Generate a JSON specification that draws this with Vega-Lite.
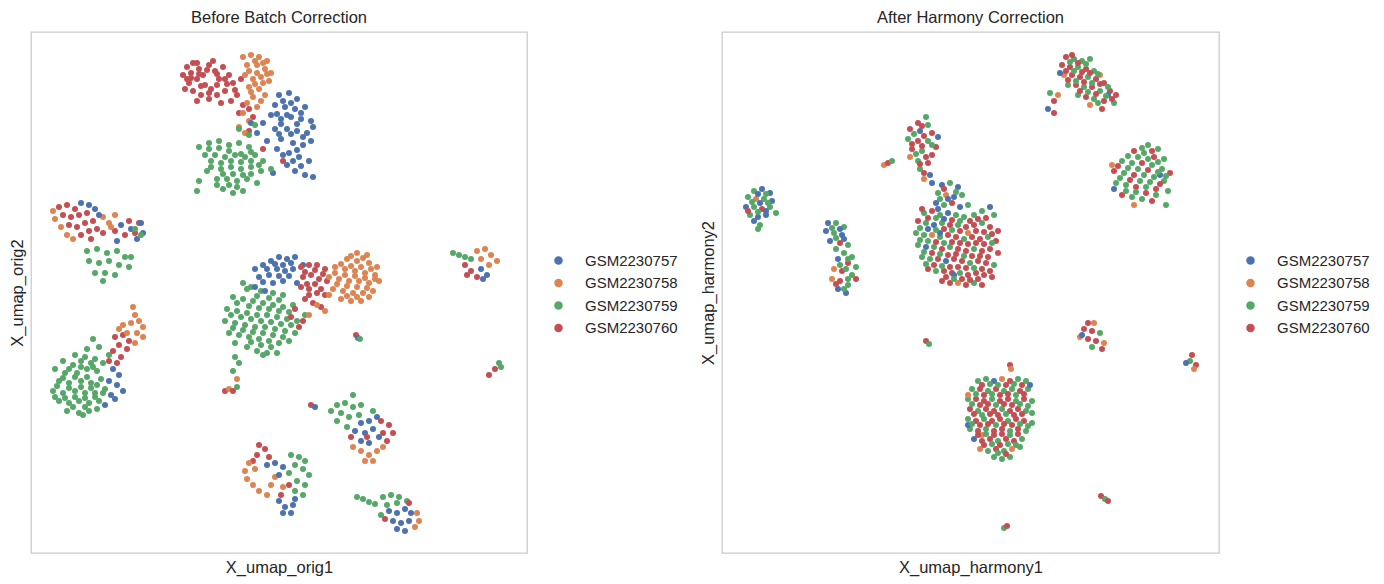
{
  "$schema": "https://vega.github.io/schema/vega-lite/v6.json",
  "background": "white",
  "padding": {"left": 8, "top": 8, "right": 0, "bottom": 0},
  "config": {
    "font": "Liberation Sans",
    "view": {"stroke": "#cccccc", "strokeWidth": 1.3},
    "title": {"fontSize": 16.5, "fontWeight": "normal", "color": "#262626", "offset": 6},
    "axis": {"grid": false, "ticks": false, "labels": false, "domain": false, "titleFontSize": 16.5, "titleFontWeight": "normal", "titleColor": "#262626", "titlePadding": 6},
    "legend": {"labelFontSize": 15, "labelColor": "#262626", "symbolSize": 72, "symbolType": "circle", "symbolOpacity": 1, "symbolStrokeWidth": 0, "rowPadding": 6.5, "labelOffset": 19, "padding": 0},
    "concat": {"spacing": 20}
  },
  "datasets": {
    "before": [
      {"x":7.6,"y":23.9,"s":"60"},{"x":7.8,"y":24.3,"s":"60"},{"x":8.1,"y":24.5,"s":"60"},{"x":8.4,"y":24.2,"s":"60"},{"x":7.9,"y":23.5,"s":"60"},{"x":8.3,"y":23.7,"s":"60"},{"x":8.6,"y":23.9,"s":"60"},{"x":8.9,"y":24.4,"s":"60"},{"x":9.2,"y":24.1,"s":"60"},{"x":8.7,"y":23.4,"s":"60"},{"x":9.0,"y":23.2,"s":"60"},{"x":9.4,"y":23.7,"s":"60"},{"x":9.6,"y":24.3,"s":"60"},{"x":9.9,"y":23.9,"s":"60"},{"x":9.3,"y":22.9,"s":"60"},{"x":9.7,"y":23.1,"s":"60"},{"x":10.1,"y":23.5,"s":"60"},{"x":8.1,"y":23.1,"s":"60"},{"x":8.5,"y":22.9,"s":"60"},{"x":7.7,"y":23.2,"s":"60"},{"x":10.3,"y":22.9,"s":"60"},{"x":10.0,"y":22.6,"s":"60"},{"x":9.5,"y":22.5,"s":"60"},{"x":10.5,"y":23.7,"s":"60"},{"x":8.9,"y":22.7,"s":"60"},{"x":9.1,"y":24.6,"s":"60"},{"x":8.0,"y":24.0,"s":"60"},{"x":10.6,"y":22.4,"s":"60"},{"x":10.9,"y":22.2,"s":"60"},{"x":10.4,"y":22.0,"s":"60"},{"x":11.1,"y":21.8,"s":"60"},{"x":8.3,"y":22.6,"s":"60"},{"x":10.9,"y":21.1,"s":"60"},{"x":11.6,"y":20.2,"s":"60"},{"x":12.6,"y":19.6,"s":"60"},
      {"x":8.0,"y":23.75,"s":"60"},{"x":8.4,"y":23.95,"s":"60"},{"x":8.8,"y":24.15,"s":"60"},{"x":9.3,"y":23.95,"s":"60"},{"x":9.7,"y":23.7,"s":"60"},{"x":8.5,"y":23.35,"s":"60"},{"x":8.9,"y":23.0,"s":"60"},{"x":9.3,"y":23.4,"s":"60"},{"x":9.8,"y":23.45,"s":"60"},{"x":10.2,"y":23.15,"s":"60"},{"x":8.3,"y":24.5,"s":"60"},{"x":7.8,"y":23.7,"s":"60"},
      {"x":10.6,"y":24.8,"s":"58"},{"x":11.0,"y":24.9,"s":"58"},{"x":11.4,"y":24.8,"s":"58"},{"x":11.8,"y":24.6,"s":"58"},{"x":10.8,"y":24.4,"s":"58"},{"x":11.3,"y":24.4,"s":"58"},{"x":11.7,"y":24.2,"s":"58"},{"x":12.0,"y":24.0,"s":"58"},{"x":10.7,"y":23.9,"s":"58"},{"x":11.1,"y":23.7,"s":"58"},{"x":11.5,"y":23.8,"s":"58"},{"x":11.9,"y":23.6,"s":"58"},{"x":10.9,"y":23.3,"s":"58"},{"x":11.4,"y":23.2,"s":"58"},{"x":11.7,"y":22.9,"s":"58"},{"x":11.1,"y":22.8,"s":"58"},{"x":10.8,"y":22.5,"s":"58"},{"x":11.3,"y":22.3,"s":"58"},{"x":10.6,"y":22.0,"s":"58"},{"x":10.9,"y":21.6,"s":"58"},{"x":10.4,"y":21.3,"s":"58"},{"x":10.7,"y":21.0,"s":"58"},
      {"x":11.2,"y":24.6,"s":"58"},{"x":11.6,"y":24.5,"s":"58"},{"x":10.9,"y":24.1,"s":"58"},{"x":11.3,"y":24.0,"s":"58"},{"x":11.8,"y":23.95,"s":"58"},{"x":11.2,"y":23.45,"s":"58"},{"x":11.6,"y":23.5,"s":"58"},{"x":11.0,"y":23.05,"s":"58"},{"x":11.5,"y":22.6,"s":"58"},
      {"x":12.4,"y":22.9,"s":"57"},{"x":12.9,"y":23.0,"s":"57"},{"x":13.3,"y":22.7,"s":"57"},{"x":12.2,"y":22.4,"s":"57"},{"x":12.7,"y":22.3,"s":"57"},{"x":13.2,"y":22.2,"s":"57"},{"x":13.7,"y":22.3,"s":"57"},{"x":12.0,"y":21.9,"s":"57"},{"x":12.5,"y":21.7,"s":"57"},{"x":13.0,"y":21.8,"s":"57"},{"x":13.5,"y":21.7,"s":"57"},{"x":14.0,"y":21.6,"s":"57"},{"x":11.6,"y":21.5,"s":"57"},{"x":12.2,"y":21.2,"s":"57"},{"x":12.8,"y":21.2,"s":"57"},{"x":13.3,"y":21.1,"s":"57"},{"x":13.8,"y":21.0,"s":"57"},{"x":14.1,"y":21.3,"s":"57"},{"x":11.3,"y":21.0,"s":"57"},{"x":12.5,"y":20.7,"s":"57"},{"x":13.1,"y":20.5,"s":"57"},{"x":13.6,"y":20.4,"s":"57"},{"x":14.0,"y":20.6,"s":"57"},{"x":12.9,"y":20.0,"s":"57"},{"x":13.4,"y":19.8,"s":"57"},{"x":12.3,"y":20.2,"s":"57"},{"x":13.9,"y":19.6,"s":"57"},{"x":12.8,"y":19.4,"s":"57"},{"x":13.2,"y":19.1,"s":"57"},{"x":13.7,"y":18.9,"s":"57"},{"x":14.1,"y":18.8,"s":"57"},{"x":12.1,"y":19.0,"s":"57"},{"x":11.0,"y":21.5,"s":"57"},{"x":11.8,"y":20.6,"s":"57"},
      {"x":12.6,"y":22.6,"s":"57"},{"x":13.0,"y":22.5,"s":"57"},{"x":13.5,"y":22.0,"s":"57"},{"x":12.3,"y":21.95,"s":"57"},{"x":12.8,"y":21.9,"s":"57"},{"x":13.3,"y":21.45,"s":"57"},{"x":12.5,"y":21.45,"s":"57"},{"x":13.0,"y":20.95,"s":"57"},{"x":13.6,"y":20.8,"s":"57"},{"x":12.4,"y":20.95,"s":"57"},{"x":13.3,"y":20.15,"s":"57"},{"x":13.1,"y":19.6,"s":"57"},{"x":13.5,"y":19.35,"s":"57"},{"x":12.6,"y":19.9,"s":"57"},
      {"x":8.4,"y":20.3,"s":"59"},{"x":8.9,"y":20.5,"s":"59"},{"x":9.4,"y":20.6,"s":"59"},{"x":9.9,"y":20.4,"s":"59"},{"x":10.4,"y":20.5,"s":"59"},{"x":10.9,"y":20.3,"s":"59"},{"x":8.7,"y":19.9,"s":"59"},{"x":9.2,"y":19.9,"s":"59"},{"x":9.7,"y":19.8,"s":"59"},{"x":10.2,"y":19.9,"s":"59"},{"x":10.7,"y":19.8,"s":"59"},{"x":11.2,"y":19.9,"s":"59"},{"x":11.6,"y":19.6,"s":"59"},{"x":9.0,"y":19.3,"s":"59"},{"x":9.5,"y":19.2,"s":"59"},{"x":10.0,"y":19.3,"s":"59"},{"x":10.5,"y":19.2,"s":"59"},{"x":11.0,"y":19.3,"s":"59"},{"x":11.5,"y":19.1,"s":"59"},{"x":12.0,"y":19.2,"s":"59"},{"x":9.3,"y":18.7,"s":"59"},{"x":9.8,"y":18.7,"s":"59"},{"x":10.3,"y":18.6,"s":"59"},{"x":10.8,"y":18.7,"s":"59"},{"x":11.3,"y":18.5,"s":"59"},{"x":9.6,"y":18.2,"s":"59"},{"x":10.1,"y":18.0,"s":"59"},{"x":10.6,"y":18.1,"s":"59"},{"x":8.4,"y":18.6,"s":"59"},{"x":8.3,"y":18.1,"s":"59"},{"x":10.9,"y":20.9,"s":"59"},{"x":10.4,"y":21.2,"s":"59"},{"x":11.2,"y":21.4,"s":"59"},{"x":9.9,"y":18.4,"s":"59"},{"x":8.8,"y":19.1,"s":"59"},
      {"x":8.9,"y":20.2,"s":"59"},{"x":9.4,"y":20.25,"s":"59"},{"x":9.9,"y":20.1,"s":"59"},{"x":10.5,"y":19.95,"s":"59"},{"x":11.0,"y":20.05,"s":"59"},{"x":9.0,"y":19.6,"s":"59"},{"x":9.5,"y":19.5,"s":"59"},{"x":10.0,"y":19.6,"s":"59"},{"x":10.5,"y":19.55,"s":"59"},{"x":11.0,"y":19.6,"s":"59"},{"x":11.4,"y":19.4,"s":"59"},{"x":9.6,"y":18.95,"s":"59"},{"x":10.1,"y":18.95,"s":"59"},{"x":10.6,"y":18.9,"s":"59"},{"x":11.0,"y":18.95,"s":"59"},{"x":10.3,"y":18.3,"s":"59"},{"x":9.3,"y":18.4,"s":"59"},
      {"x":1.4,"y":17.3,"s":"60"},{"x":1.8,"y":17.4,"s":"60"},{"x":2.2,"y":17.2,"s":"60"},{"x":1.6,"y":16.9,"s":"60"},{"x":2.0,"y":16.8,"s":"60"},{"x":2.4,"y":16.9,"s":"60"},{"x":2.8,"y":17.0,"s":"60"},{"x":1.9,"y":16.4,"s":"60"},{"x":2.3,"y":16.3,"s":"60"},{"x":2.7,"y":16.5,"s":"60"},{"x":3.1,"y":16.6,"s":"60"},{"x":2.5,"y":15.9,"s":"60"},{"x":2.9,"y":16.1,"s":"60"},{"x":3.3,"y":16.2,"s":"60"},{"x":3.6,"y":16.0,"s":"60"},{"x":4.2,"y":16.1,"s":"60"},{"x":4.7,"y":15.9,"s":"60"},{"x":5.2,"y":16.0,"s":"60"},{"x":5.4,"y":16.5,"s":"60"},{"x":4.9,"y":16.6,"s":"60"},{"x":3.0,"y":15.7,"s":"60"},
      {"x":1.1,"y":17.1,"s":"58"},{"x":1.2,"y":16.7,"s":"58"},{"x":1.5,"y":16.3,"s":"58"},{"x":1.8,"y":15.9,"s":"58"},{"x":2.1,"y":15.7,"s":"58"},{"x":3.6,"y":16.8,"s":"58"},{"x":3.9,"y":16.5,"s":"58"},{"x":4.2,"y":16.9,"s":"58"},{"x":4.0,"y":16.3,"s":"58"},
      {"x":2.5,"y":17.5,"s":"57"},{"x":2.9,"y":17.4,"s":"57"},{"x":3.2,"y":17.2,"s":"57"},{"x":3.4,"y":16.9,"s":"57"},{"x":4.5,"y":16.4,"s":"57"},{"x":5.0,"y":16.2,"s":"57"},{"x":5.5,"y":16.5,"s":"57"},{"x":5.6,"y":16.0,"s":"57"},{"x":4.3,"y":15.6,"s":"57"},{"x":5.3,"y":15.7,"s":"57"},
      {"x":2.8,"y":15.1,"s":"59"},{"x":3.3,"y":15.2,"s":"59"},{"x":3.8,"y":15.0,"s":"59"},{"x":4.3,"y":15.1,"s":"59"},{"x":4.7,"y":14.8,"s":"59"},{"x":2.9,"y":14.6,"s":"59"},{"x":3.4,"y":14.5,"s":"59"},{"x":3.9,"y":14.6,"s":"59"},{"x":4.4,"y":14.4,"s":"59"},{"x":4.9,"y":14.3,"s":"59"},{"x":3.2,"y":14.0,"s":"59"},{"x":3.7,"y":14.0,"s":"59"},{"x":4.2,"y":13.9,"s":"59"},{"x":3.6,"y":13.6,"s":"59"},{"x":5.0,"y":14.8,"s":"59"},{"x":5.5,"y":15.9,"s":"59"},{"x":5.2,"y":16.2,"s":"59"},
      {"x":3.1,"y":10.7,"s":"59"},{"x":3.4,"y":10.3,"s":"59"},{"x":2.8,"y":10.2,"s":"59"},{"x":2.2,"y":9.9,"s":"59"},{"x":2.7,"y":9.8,"s":"59"},{"x":3.2,"y":9.7,"s":"59"},{"x":1.6,"y":9.6,"s":"59"},{"x":2.1,"y":9.4,"s":"59"},{"x":3.6,"y":9.5,"s":"59"},{"x":1.2,"y":9.2,"s":"59"},{"x":1.7,"y":9.0,"s":"59"},{"x":2.3,"y":9.0,"s":"59"},{"x":2.8,"y":9.2,"s":"59"},{"x":3.3,"y":9.1,"s":"59"},{"x":1.4,"y":8.6,"s":"59"},{"x":1.9,"y":8.5,"s":"59"},{"x":2.5,"y":8.6,"s":"59"},{"x":3.0,"y":8.5,"s":"59"},{"x":3.5,"y":8.7,"s":"59"},{"x":1.1,"y":8.1,"s":"59"},{"x":1.6,"y":8.0,"s":"59"},{"x":2.2,"y":8.1,"s":"59"},{"x":2.7,"y":8.0,"s":"59"},{"x":3.2,"y":8.0,"s":"59"},{"x":3.7,"y":8.2,"s":"59"},{"x":1.4,"y":7.6,"s":"59"},{"x":1.9,"y":7.5,"s":"59"},{"x":2.4,"y":7.6,"s":"59"},{"x":2.9,"y":7.5,"s":"59"},{"x":3.4,"y":7.6,"s":"59"},{"x":1.8,"y":7.1,"s":"59"},{"x":2.4,"y":7.0,"s":"59"},{"x":2.9,"y":7.1,"s":"59"},{"x":3.3,"y":7.2,"s":"59"},{"x":2.6,"y":6.9,"s":"59"},{"x":1.2,"y":7.8,"s":"59"},{"x":3.9,"y":9.9,"s":"59"},
      {"x":2.5,"y":9.6,"s":"59"},{"x":3.0,"y":9.5,"s":"59"},{"x":1.9,"y":9.2,"s":"59"},{"x":2.5,"y":9.3,"s":"59"},{"x":3.1,"y":9.3,"s":"59"},{"x":1.6,"y":8.75,"s":"59"},{"x":2.2,"y":8.8,"s":"59"},{"x":2.8,"y":8.8,"s":"59"},{"x":3.3,"y":8.4,"s":"59"},{"x":1.3,"y":8.35,"s":"59"},{"x":1.9,"y":8.25,"s":"59"},{"x":2.5,"y":8.3,"s":"59"},{"x":3.0,"y":8.25,"s":"59"},{"x":1.7,"y":7.75,"s":"59"},{"x":2.2,"y":7.8,"s":"59"},{"x":2.7,"y":7.75,"s":"59"},{"x":3.2,"y":7.8,"s":"59"},{"x":2.1,"y":7.3,"s":"59"},{"x":2.7,"y":7.3,"s":"59"},{"x":3.6,"y":8.0,"s":"59"},
      {"x":4.1,"y":9.2,"s":"57"},{"x":4.4,"y":8.9,"s":"57"},{"x":3.9,"y":8.6,"s":"57"},{"x":4.3,"y":8.4,"s":"57"},{"x":4.6,"y":8.1,"s":"57"},{"x":4.0,"y":7.9,"s":"57"},{"x":3.7,"y":7.4,"s":"57"},{"x":4.2,"y":7.7,"s":"57"},
      {"x":4.2,"y":10.8,"s":"60"},{"x":4.6,"y":10.9,"s":"60"},{"x":4.9,"y":10.6,"s":"60"},{"x":4.4,"y":10.4,"s":"60"},{"x":4.8,"y":10.2,"s":"60"},{"x":4.1,"y":10.1,"s":"60"},{"x":4.5,"y":9.8,"s":"60"},{"x":4.3,"y":9.5,"s":"60"},{"x":3.9,"y":9.6,"s":"60"},
      {"x":5.1,"y":12.3,"s":"58"},{"x":5.2,"y":11.9,"s":"58"},{"x":5.4,"y":11.6,"s":"58"},{"x":5.0,"y":11.5,"s":"58"},{"x":5.6,"y":11.3,"s":"58"},{"x":4.6,"y":11.4,"s":"58"},{"x":5.3,"y":11.0,"s":"58"},{"x":4.8,"y":11.0,"s":"58"},{"x":5.6,"y":10.8,"s":"58"},{"x":5.2,"y":10.5,"s":"58"},{"x":4.4,"y":11.2,"s":"58"},
      {"x":10.6,"y":13.5,"s":"59"},{"x":11.0,"y":13.3,"s":"59"},{"x":11.5,"y":13.1,"s":"59"},{"x":12.1,"y":13.0,"s":"59"},{"x":12.6,"y":12.9,"s":"59"},{"x":10.1,"y":12.8,"s":"59"},{"x":10.6,"y":12.7,"s":"59"},{"x":11.1,"y":12.6,"s":"59"},{"x":11.6,"y":12.5,"s":"59"},{"x":12.1,"y":12.4,"s":"59"},{"x":12.6,"y":12.3,"s":"59"},{"x":13.1,"y":12.4,"s":"59"},{"x":9.8,"y":12.2,"s":"59"},{"x":10.3,"y":12.1,"s":"59"},{"x":10.8,"y":12.0,"s":"59"},{"x":11.3,"y":11.9,"s":"59"},{"x":11.8,"y":11.9,"s":"59"},{"x":12.3,"y":11.8,"s":"59"},{"x":12.8,"y":11.7,"s":"59"},{"x":13.3,"y":11.6,"s":"59"},{"x":13.7,"y":11.9,"s":"59"},{"x":9.7,"y":11.6,"s":"59"},{"x":10.2,"y":11.5,"s":"59"},{"x":10.7,"y":11.4,"s":"59"},{"x":11.2,"y":11.3,"s":"59"},{"x":11.7,"y":11.3,"s":"59"},{"x":12.2,"y":11.2,"s":"59"},{"x":12.7,"y":11.1,"s":"59"},{"x":13.2,"y":11.0,"s":"59"},{"x":9.9,"y":11.0,"s":"59"},{"x":10.4,"y":10.9,"s":"59"},{"x":10.9,"y":10.8,"s":"59"},{"x":11.4,"y":10.7,"s":"59"},{"x":11.9,"y":10.6,"s":"59"},{"x":12.4,"y":10.5,"s":"59"},{"x":12.9,"y":10.6,"s":"59"},{"x":10.8,"y":10.3,"s":"59"},{"x":11.3,"y":10.1,"s":"59"},{"x":11.8,"y":10.0,"s":"59"},{"x":12.3,"y":10.0,"s":"59"},{"x":10.2,"y":10.5,"s":"59"},{"x":11.6,"y":9.9,"s":"59"},
      {"x":10.8,"y":13.2,"s":"59"},{"x":11.3,"y":12.85,"s":"59"},{"x":11.9,"y":12.75,"s":"59"},{"x":12.4,"y":12.65,"s":"59"},{"x":10.3,"y":12.5,"s":"59"},{"x":10.9,"y":12.35,"s":"59"},{"x":11.4,"y":12.25,"s":"59"},{"x":11.9,"y":12.2,"s":"59"},{"x":12.4,"y":12.1,"s":"59"},{"x":12.9,"y":12.05,"s":"59"},{"x":10.0,"y":11.9,"s":"59"},{"x":10.5,"y":11.8,"s":"59"},{"x":11.0,"y":11.7,"s":"59"},{"x":11.5,"y":11.6,"s":"59"},{"x":12.0,"y":11.55,"s":"59"},{"x":12.5,"y":11.45,"s":"59"},{"x":13.0,"y":11.4,"s":"59"},{"x":10.1,"y":11.25,"s":"59"},{"x":10.6,"y":11.15,"s":"59"},{"x":11.1,"y":11.05,"s":"59"},{"x":11.6,"y":11.0,"s":"59"},{"x":12.1,"y":10.9,"s":"59"},{"x":12.6,"y":10.8,"s":"59"},{"x":11.0,"y":10.55,"s":"59"},{"x":11.5,"y":10.4,"s":"59"},{"x":12.0,"y":10.3,"s":"59"},
      {"x":11.2,"y":14.2,"s":"57"},{"x":11.6,"y":14.4,"s":"57"},{"x":12.0,"y":14.6,"s":"57"},{"x":12.4,"y":14.8,"s":"57"},{"x":12.8,"y":14.7,"s":"57"},{"x":13.2,"y":14.8,"s":"57"},{"x":11.4,"y":13.8,"s":"57"},{"x":11.9,"y":13.9,"s":"57"},{"x":12.3,"y":14.2,"s":"57"},{"x":12.7,"y":14.1,"s":"57"},{"x":13.1,"y":14.2,"s":"57"},{"x":11.2,"y":13.3,"s":"57"},{"x":12.1,"y":13.5,"s":"57"},{"x":12.6,"y":13.6,"s":"57"},{"x":13.3,"y":13.5,"s":"57"},{"x":13.6,"y":14.4,"s":"57"},{"x":11.7,"y":13.1,"s":"57"},
      {"x":11.8,"y":14.2,"s":"57"},{"x":12.2,"y":14.45,"s":"57"},{"x":12.6,"y":14.4,"s":"57"},{"x":13.0,"y":14.5,"s":"57"},{"x":11.6,"y":13.55,"s":"57"},{"x":12.4,"y":13.85,"s":"57"},{"x":12.9,"y":13.85,"s":"57"},
      {"x":13.5,"y":14.3,"s":"60"},{"x":13.9,"y":14.4,"s":"60"},{"x":14.3,"y":14.4,"s":"60"},{"x":14.7,"y":14.2,"s":"60"},{"x":13.6,"y":13.8,"s":"60"},{"x":14.0,"y":13.9,"s":"60"},{"x":14.4,"y":13.7,"s":"60"},{"x":14.8,"y":13.6,"s":"60"},{"x":13.5,"y":13.3,"s":"60"},{"x":13.9,"y":13.2,"s":"60"},{"x":14.3,"y":13.0,"s":"60"},{"x":14.7,"y":12.9,"s":"60"},{"x":13.7,"y":12.7,"s":"60"},{"x":14.1,"y":12.5,"s":"60"},{"x":14.5,"y":12.3,"s":"60"},{"x":13.2,"y":12.2,"s":"60"},{"x":13.6,"y":11.6,"s":"60"},{"x":13.0,"y":11.8,"s":"60"},{"x":13.4,"y":11.3,"s":"60"},
      {"x":13.7,"y":14.05,"s":"60"},{"x":14.2,"y":14.15,"s":"60"},{"x":14.6,"y":13.95,"s":"60"},{"x":13.8,"y":13.45,"s":"60"},{"x":14.2,"y":13.45,"s":"60"},{"x":14.5,"y":13.2,"s":"60"},{"x":13.9,"y":12.9,"s":"60"},
      {"x":16.3,"y":15.0,"s":"58"},{"x":16.8,"y":14.9,"s":"58"},{"x":15.8,"y":14.7,"s":"58"},{"x":16.3,"y":14.6,"s":"58"},{"x":16.9,"y":14.5,"s":"58"},{"x":17.3,"y":14.3,"s":"58"},{"x":15.2,"y":14.3,"s":"58"},{"x":15.7,"y":14.2,"s":"58"},{"x":16.2,"y":14.1,"s":"58"},{"x":16.7,"y":14.0,"s":"58"},{"x":17.2,"y":13.9,"s":"58"},{"x":14.9,"y":13.8,"s":"58"},{"x":15.4,"y":13.7,"s":"58"},{"x":15.9,"y":13.6,"s":"58"},{"x":16.4,"y":13.6,"s":"58"},{"x":16.9,"y":13.5,"s":"58"},{"x":17.4,"y":13.6,"s":"58"},{"x":15.1,"y":13.2,"s":"58"},{"x":15.6,"y":13.1,"s":"58"},{"x":16.1,"y":13.0,"s":"58"},{"x":16.6,"y":13.0,"s":"58"},{"x":17.1,"y":13.1,"s":"58"},{"x":15.5,"y":12.7,"s":"58"},{"x":16.0,"y":12.6,"s":"58"},{"x":16.5,"y":12.6,"s":"58"},{"x":16.9,"y":12.8,"s":"58"},{"x":14.9,"y":12.9,"s":"58"},{"x":14.3,"y":12.4,"s":"58"},{"x":14.7,"y":12.1,"s":"58"},{"x":13.9,"y":11.9,"s":"58"},
      {"x":16.0,"y":14.85,"s":"58"},{"x":16.6,"y":14.75,"s":"58"},{"x":15.5,"y":14.45,"s":"58"},{"x":16.0,"y":14.35,"s":"58"},{"x":16.5,"y":14.3,"s":"58"},{"x":17.0,"y":14.2,"s":"58"},{"x":15.2,"y":14.0,"s":"58"},{"x":15.7,"y":13.9,"s":"58"},{"x":16.2,"y":13.85,"s":"58"},{"x":16.7,"y":13.75,"s":"58"},{"x":17.2,"y":13.7,"s":"58"},{"x":15.3,"y":13.45,"s":"58"},{"x":15.8,"y":13.35,"s":"58"},{"x":16.3,"y":13.3,"s":"58"},{"x":16.8,"y":13.25,"s":"58"},{"x":15.8,"y":12.85,"s":"58"},{"x":16.3,"y":12.8,"s":"58"},
      {"x":10.2,"y":9.8,"s":"59"},{"x":10.4,"y":9.5,"s":"59"},{"x":10.1,"y":9.1,"s":"59"},{"x":10.3,"y":8.7,"s":"58"},{"x":9.7,"y":8.1,"s":"60"},{"x":9.9,"y":8.2,"s":"58"},{"x":10.1,"y":8.1,"s":"60"},{"x":10.3,"y":8.3,"s":"59"},
      {"x":16.25,"y":10.9,"s":"60"},{"x":16.35,"y":10.75,"s":"57"},{"x":16.45,"y":10.7,"s":"59"},
      {"x":21.1,"y":15.0,"s":"59"},{"x":21.4,"y":14.9,"s":"59"},{"x":21.7,"y":14.8,"s":"59"},{"x":22.0,"y":14.7,"s":"59"},{"x":22.3,"y":15.1,"s":"58"},{"x":22.7,"y":15.2,"s":"58"},{"x":23.0,"y":14.9,"s":"58"},{"x":23.3,"y":14.6,"s":"58"},{"x":22.9,"y":14.4,"s":"58"},{"x":22.5,"y":14.7,"s":"58"},{"x":21.7,"y":14.4,"s":"60"},{"x":22.0,"y":14.1,"s":"60"},{"x":21.8,"y":13.9,"s":"60"},{"x":22.3,"y":13.8,"s":"60"},{"x":22.5,"y":14.2,"s":"57"},{"x":22.8,"y":13.9,"s":"57"},{"x":22.6,"y":13.7,"s":"57"},
      {"x":23.4,"y":9.5,"s":"59"},{"x":23.5,"y":9.3,"s":"59"},{"x":23.2,"y":9.2,"s":"60"},{"x":22.9,"y":8.9,"s":"60"},
      {"x":16.1,"y":7.9,"s":"59"},{"x":15.3,"y":7.4,"s":"59"},{"x":15.7,"y":7.5,"s":"59"},{"x":16.1,"y":7.3,"s":"59"},{"x":16.5,"y":7.4,"s":"59"},{"x":15.0,"y":7.1,"s":"59"},{"x":15.5,"y":7.0,"s":"59"},{"x":15.9,"y":6.8,"s":"59"},{"x":16.4,"y":6.9,"s":"59"},{"x":15.3,"y":6.6,"s":"59"},{"x":15.8,"y":6.3,"s":"59"},{"x":17.1,"y":7.1,"s":"59"},
      {"x":16.5,"y":6.5,"s":"57"},{"x":16.9,"y":6.6,"s":"57"},{"x":17.3,"y":6.8,"s":"57"},{"x":16.2,"y":6.1,"s":"57"},{"x":16.7,"y":6.0,"s":"57"},{"x":17.1,"y":6.2,"s":"57"},{"x":16.5,"y":5.6,"s":"57"},{"x":16.9,"y":5.5,"s":"57"},{"x":17.4,"y":5.8,"s":"57"},
      {"x":17.5,"y":6.6,"s":"60"},{"x":17.9,"y":6.4,"s":"60"},{"x":18.1,"y":6.0,"s":"60"},{"x":17.6,"y":6.0,"s":"60"},{"x":17.8,"y":5.6,"s":"60"},{"x":16.8,"y":5.8,"s":"60"},{"x":16.0,"y":5.8,"s":"60"},
      {"x":16.1,"y":5.3,"s":"58"},{"x":16.5,"y":5.1,"s":"58"},{"x":16.9,"y":4.9,"s":"58"},{"x":17.3,"y":5.1,"s":"58"},{"x":16.7,"y":4.6,"s":"58"},{"x":17.1,"y":4.6,"s":"58"},{"x":17.6,"y":5.3,"s":"58"},
      {"x":14.0,"y":7.4,"s":"60"},{"x":14.2,"y":7.3,"s":"57"},
      {"x":11.4,"y":5.4,"s":"60"},{"x":11.7,"y":5.2,"s":"60"},{"x":11.3,"y":4.9,"s":"60"},{"x":11.9,"y":4.8,"s":"60"},{"x":11.1,"y":4.6,"s":"60"},{"x":12.9,"y":3.4,"s":"60"},{"x":12.5,"y":2.9,"s":"60"},
      {"x":10.9,"y":4.5,"s":"58"},{"x":10.7,"y":4.1,"s":"58"},{"x":10.8,"y":3.7,"s":"58"},{"x":11.1,"y":3.4,"s":"58"},{"x":11.4,"y":3.1,"s":"58"},{"x":11.8,"y":2.9,"s":"58"},{"x":11.2,"y":4.2,"s":"58"},{"x":12.2,"y":3.8,"s":"58"},{"x":12.6,"y":3.3,"s":"58"},{"x":12.0,"y":3.4,"s":"58"},
      {"x":11.8,"y":4.4,"s":"57"},{"x":12.2,"y":4.5,"s":"57"},{"x":12.6,"y":4.3,"s":"57"},{"x":12.4,"y":3.9,"s":"57"},{"x":12.4,"y":2.6,"s":"57"},{"x":12.7,"y":2.3,"s":"57"},{"x":13.1,"y":2.4,"s":"57"},{"x":12.6,"y":2.0,"s":"57"},{"x":13.0,"y":2.0,"s":"57"},{"x":13.2,"y":2.7,"s":"57"},
      {"x":13.0,"y":4.9,"s":"59"},{"x":13.4,"y":4.8,"s":"59"},{"x":13.7,"y":4.6,"s":"59"},{"x":13.2,"y":4.4,"s":"59"},{"x":13.6,"y":4.2,"s":"59"},{"x":12.9,"y":4.0,"s":"59"},{"x":13.3,"y":3.6,"s":"59"},{"x":13.7,"y":3.4,"s":"59"},{"x":13.2,"y":3.1,"s":"59"},{"x":13.6,"y":2.9,"s":"59"},{"x":13.9,"y":3.9,"s":"59"},
      {"x":16.3,"y":2.8,"s":"59"},{"x":16.6,"y":2.7,"s":"59"},{"x":16.9,"y":2.55,"s":"59"},{"x":17.2,"y":2.45,"s":"59"},{"x":17.6,"y":2.8,"s":"59"},{"x":18.0,"y":2.9,"s":"59"},{"x":18.4,"y":2.8,"s":"59"},{"x":18.8,"y":2.6,"s":"59"},{"x":17.8,"y":2.4,"s":"59"},{"x":18.3,"y":2.5,"s":"59"},{"x":17.5,"y":1.9,"s":"59"},
      {"x":17.9,"y":2.1,"s":"57"},{"x":18.3,"y":2.0,"s":"57"},{"x":18.7,"y":2.2,"s":"57"},{"x":19.0,"y":2.0,"s":"57"},{"x":18.1,"y":1.6,"s":"57"},{"x":18.5,"y":1.5,"s":"57"},{"x":18.9,"y":1.6,"s":"57"},{"x":18.7,"y":1.1,"s":"57"},{"x":18.3,"y":1.2,"s":"57"},
      {"x":19.3,"y":2.0,"s":"58"},{"x":19.4,"y":1.6,"s":"58"},{"x":19.2,"y":1.3,"s":"58"},{"x":18.9,"y":2.5,"s":"60"},{"x":17.7,"y":1.7,"s":"60"}
    ],
    "after": [
      {"x":17.2,"y":24.8,"s":"60"},{"x":17.6,"y":24.7,"s":"59"},{"x":18.0,"y":24.6,"s":"59"},{"x":18.4,"y":24.7,"s":"59"},{"x":17.0,"y":24.4,"s":"60"},{"x":17.4,"y":24.3,"s":"60"},{"x":17.8,"y":24.3,"s":"59"},{"x":18.2,"y":24.2,"s":"60"},{"x":18.6,"y":24.1,"s":"59"},{"x":17.1,"y":23.9,"s":"58"},{"x":17.5,"y":23.9,"s":"60"},{"x":17.9,"y":23.8,"s":"60"},{"x":18.3,"y":23.8,"s":"59"},{"x":18.7,"y":23.7,"s":"60"},{"x":19.1,"y":23.5,"s":"60"},{"x":17.3,"y":23.4,"s":"59"},{"x":17.7,"y":23.4,"s":"60"},{"x":18.1,"y":23.3,"s":"59"},{"x":18.5,"y":23.3,"s":"60"},{"x":18.9,"y":23.1,"s":"59"},{"x":19.4,"y":23.1,"s":"60"},{"x":19.7,"y":22.9,"s":"60"},{"x":17.8,"y":22.9,"s":"59"},{"x":18.2,"y":22.8,"s":"60"},{"x":18.6,"y":22.7,"s":"59"},{"x":19.1,"y":22.6,"s":"60"},{"x":19.6,"y":22.5,"s":"59"},{"x":18.4,"y":22.4,"s":"58"},{"x":19.0,"y":22.2,"s":"60"},{"x":16.9,"y":24.0,"s":"57"},{"x":19.3,"y":22.9,"s":"57"},{"x":16.4,"y":23.0,"s":"59"},{"x":16.6,"y":22.6,"s":"60"},{"x":16.3,"y":22.2,"s":"57"},{"x":16.6,"y":22.0,"s":"60"},{"x":16.8,"y":22.9,"s":"58"},{"x":17.5,"y":24.9,"s":"60"},{"x":18.9,"y":23.9,"s":"58"},
      {"x":17.4,"y":24.55,"s":"59"},{"x":17.8,"y":24.5,"s":"60"},{"x":18.2,"y":24.45,"s":"59"},{"x":17.2,"y":24.1,"s":"60"},{"x":17.6,"y":24.1,"s":"59"},{"x":18.0,"y":24.05,"s":"60"},{"x":18.4,"y":24.0,"s":"60"},{"x":18.8,"y":23.95,"s":"59"},{"x":17.3,"y":23.65,"s":"60"},{"x":17.7,"y":23.6,"s":"59"},{"x":18.1,"y":23.55,"s":"60"},{"x":18.5,"y":23.5,"s":"59"},{"x":18.9,"y":23.45,"s":"60"},{"x":19.3,"y":23.3,"s":"59"},{"x":17.9,"y":23.1,"s":"60"},{"x":18.3,"y":23.05,"s":"59"},{"x":18.7,"y":22.95,"s":"60"},{"x":19.2,"y":22.85,"s":"59"},{"x":19.5,"y":22.7,"s":"60"},{"x":18.8,"y":22.5,"s":"59"},
      {"x":10.2,"y":21.8,"s":"59"},{"x":9.8,"y":21.5,"s":"60"},{"x":10.3,"y":21.4,"s":"59"},{"x":9.4,"y":21.2,"s":"60"},{"x":9.9,"y":21.1,"s":"57"},{"x":10.5,"y":21.0,"s":"60"},{"x":9.3,"y":20.7,"s":"59"},{"x":9.8,"y":20.6,"s":"60"},{"x":10.3,"y":20.6,"s":"59"},{"x":10.7,"y":20.3,"s":"60"},{"x":9.5,"y":20.2,"s":"60"},{"x":10.0,"y":20.1,"s":"59"},{"x":10.5,"y":19.9,"s":"60"},{"x":9.4,"y":19.8,"s":"58"},{"x":9.8,"y":19.6,"s":"59"},{"x":10.3,"y":19.5,"s":"60"},{"x":9.9,"y":19.2,"s":"59"},{"x":10.1,"y":19.0,"s":"60"},{"x":10.8,"y":20.8,"s":"57"},
      {"x":10.0,"y":21.35,"s":"60"},{"x":9.6,"y":20.95,"s":"59"},{"x":10.1,"y":20.85,"s":"60"},{"x":9.5,"y":20.45,"s":"60"},{"x":10.0,"y":20.35,"s":"60"},{"x":10.5,"y":20.4,"s":"59"},{"x":9.7,"y":19.95,"s":"59"},{"x":10.2,"y":19.8,"s":"60"},{"x":9.9,"y":19.45,"s":"60"},
      {"x":8.1,"y":19.4,"s":"58"},{"x":8.3,"y":19.5,"s":"60"},{"x":8.5,"y":19.6,"s":"59"},{"x":10.4,"y":18.9,"s":"57"},{"x":10.5,"y":18.5,"s":"57"},{"x":10.1,"y":18.7,"s":"58"},
      {"x":21.3,"y":20.4,"s":"59"},{"x":21.8,"y":20.2,"s":"59"},{"x":20.6,"y":20.1,"s":"60"},{"x":21.1,"y":20.0,"s":"59"},{"x":21.6,"y":19.8,"s":"60"},{"x":22.1,"y":19.7,"s":"59"},{"x":20.0,"y":19.6,"s":"59"},{"x":20.5,"y":19.5,"s":"59"},{"x":21.0,"y":19.5,"s":"60"},{"x":21.5,"y":19.4,"s":"59"},{"x":22.0,"y":19.2,"s":"59"},{"x":22.4,"y":19.0,"s":"60"},{"x":19.6,"y":19.1,"s":"60"},{"x":20.1,"y":19.0,"s":"59"},{"x":20.6,"y":18.9,"s":"60"},{"x":21.1,"y":18.9,"s":"59"},{"x":21.6,"y":18.8,"s":"59"},{"x":22.1,"y":18.6,"s":"59"},{"x":19.7,"y":18.5,"s":"59"},{"x":20.2,"y":18.4,"s":"59"},{"x":20.7,"y":18.3,"s":"60"},{"x":21.2,"y":18.3,"s":"59"},{"x":21.7,"y":18.2,"s":"60"},{"x":22.3,"y":18.1,"s":"59"},{"x":20.0,"y":17.9,"s":"60"},{"x":20.5,"y":17.8,"s":"59"},{"x":21.0,"y":17.7,"s":"59"},{"x":21.5,"y":17.6,"s":"60"},{"x":22.2,"y":17.4,"s":"59"},{"x":20.6,"y":17.4,"s":"58"},{"x":19.6,"y":18.2,"s":"57"},{"x":19.5,"y":19.4,"s":"58"},{"x":21.9,"y":18.9,"s":"57"},
      {"x":21.0,"y":20.25,"s":"59"},{"x":21.5,"y":20.1,"s":"60"},{"x":20.3,"y":19.85,"s":"59"},{"x":20.8,"y":19.8,"s":"59"},{"x":21.3,"y":19.7,"s":"59"},{"x":21.8,"y":19.55,"s":"59"},{"x":19.8,"y":19.35,"s":"60"},{"x":20.3,"y":19.25,"s":"59"},{"x":20.8,"y":19.2,"s":"59"},{"x":21.3,"y":19.15,"s":"60"},{"x":21.8,"y":19.05,"s":"59"},{"x":22.2,"y":18.85,"s":"59"},{"x":19.9,"y":18.75,"s":"59"},{"x":20.4,"y":18.65,"s":"60"},{"x":20.9,"y":18.6,"s":"59"},{"x":21.4,"y":18.55,"s":"59"},{"x":21.9,"y":18.45,"s":"60"},{"x":20.2,"y":18.1,"s":"59"},{"x":20.7,"y":18.05,"s":"59"},{"x":21.2,"y":18.0,"s":"60"},{"x":21.7,"y":17.9,"s":"59"},
      {"x":1.6,"y":18.1,"s":"59"},{"x":2.0,"y":18.2,"s":"57"},{"x":2.4,"y":18.0,"s":"57"},{"x":1.3,"y":17.8,"s":"59"},{"x":1.7,"y":17.7,"s":"58"},{"x":2.1,"y":17.7,"s":"59"},{"x":2.5,"y":17.6,"s":"57"},{"x":1.2,"y":17.3,"s":"57"},{"x":1.6,"y":17.3,"s":"59"},{"x":2.0,"y":17.2,"s":"60"},{"x":2.4,"y":17.3,"s":"59"},{"x":2.7,"y":17.0,"s":"59"},{"x":1.4,"y":16.9,"s":"59"},{"x":1.8,"y":16.8,"s":"57"},{"x":2.2,"y":16.9,"s":"57"},{"x":1.9,"y":16.4,"s":"59"},{"x":1.8,"y":16.2,"s":"59"},{"x":1.3,"y":17.1,"s":"60"},
      {"x":1.8,"y":17.95,"s":"57"},{"x":2.2,"y":17.95,"s":"59"},{"x":1.5,"y":17.55,"s":"59"},{"x":1.9,"y":17.5,"s":"57"},{"x":2.3,"y":17.5,"s":"59"},{"x":1.8,"y":17.05,"s":"59"},{"x":2.2,"y":17.1,"s":"57"},{"x":1.6,"y":16.6,"s":"57"},
      {"x":5.3,"y":16.5,"s":"57"},{"x":5.7,"y":16.5,"s":"59"},{"x":6.1,"y":16.3,"s":"59"},{"x":5.2,"y":16.1,"s":"57"},{"x":5.6,"y":16.0,"s":"59"},{"x":6.0,"y":15.9,"s":"57"},{"x":5.4,"y":15.6,"s":"57"},{"x":5.9,"y":15.5,"s":"60"},{"x":6.3,"y":15.4,"s":"59"},{"x":5.7,"y":15.2,"s":"59"},
      {"x":6.1,"y":15.0,"s":"59"},{"x":6.5,"y":14.8,"s":"59"},{"x":5.8,"y":14.7,"s":"57"},{"x":6.3,"y":14.5,"s":"60"},{"x":6.7,"y":14.3,"s":"59"},{"x":5.6,"y":14.2,"s":"58"},{"x":6.0,"y":14.1,"s":"60"},{"x":6.5,"y":13.9,"s":"59"},{"x":5.5,"y":13.7,"s":"58"},{"x":5.9,"y":13.6,"s":"60"},{"x":6.3,"y":13.4,"s":"59"},{"x":5.8,"y":13.2,"s":"57"},{"x":6.7,"y":13.7,"s":"60"},{"x":6.2,"y":13.0,"s":"57"},
      {"x":5.5,"y":16.25,"s":"59"},{"x":5.9,"y":16.2,"s":"57"},{"x":5.7,"y":15.75,"s":"59"},{"x":6.1,"y":15.7,"s":"57"},{"x":6.3,"y":14.7,"s":"59"},{"x":5.9,"y":14.4,"s":"59"},{"x":6.2,"y":14.2,"s":"59"},{"x":6.3,"y":13.7,"s":"59"},{"x":5.7,"y":13.45,"s":"60"},{"x":6.1,"y":13.2,"s":"59"},
      {"x":11.0,"y":18.4,"s":"57"},{"x":11.4,"y":18.5,"s":"59"},{"x":11.8,"y":18.3,"s":"57"},{"x":10.8,"y":18.0,"s":"59"},{"x":11.2,"y":17.9,"s":"58"},{"x":11.6,"y":17.8,"s":"57"},{"x":12.0,"y":17.9,"s":"59"},{"x":10.7,"y":17.5,"s":"57"},{"x":11.1,"y":17.4,"s":"59"},{"x":11.5,"y":17.5,"s":"60"},{"x":11.9,"y":17.3,"s":"57"},{"x":12.3,"y":17.4,"s":"59"},
      {"x":10.1,"y":17.0,"s":"59"},{"x":10.5,"y":17.1,"s":"60"},{"x":10.9,"y":16.9,"s":"59"},{"x":11.3,"y":17.0,"s":"57"},{"x":11.7,"y":16.9,"s":"59"},{"x":12.1,"y":16.8,"s":"59"},{"x":12.6,"y":16.9,"s":"59"},{"x":13.0,"y":17.1,"s":"59"},{"x":9.8,"y":16.6,"s":"60"},{"x":10.2,"y":16.5,"s":"59"},{"x":10.6,"y":16.4,"s":"57"},{"x":11.0,"y":16.5,"s":"59"},{"x":11.4,"y":16.4,"s":"60"},{"x":11.8,"y":16.4,"s":"59"},{"x":12.2,"y":16.3,"s":"60"},{"x":12.6,"y":16.4,"s":"60"},{"x":13.0,"y":16.5,"s":"59"},{"x":13.4,"y":16.3,"s":"60"},{"x":13.8,"y":16.1,"s":"60"},{"x":9.7,"y":16.0,"s":"59"},{"x":10.1,"y":15.9,"s":"59"},{"x":10.5,"y":15.9,"s":"58"},{"x":10.9,"y":15.8,"s":"59"},{"x":11.3,"y":15.9,"s":"60"},{"x":11.7,"y":15.8,"s":"60"},{"x":12.1,"y":15.7,"s":"59"},{"x":12.5,"y":15.8,"s":"60"},{"x":12.9,"y":15.7,"s":"60"},{"x":13.3,"y":15.8,"s":"59"},{"x":13.7,"y":15.6,"s":"60"},{"x":9.8,"y":15.4,"s":"59"},{"x":10.2,"y":15.3,"s":"57"},{"x":10.6,"y":15.3,"s":"59"},{"x":11.0,"y":15.2,"s":"60"},{"x":11.4,"y":15.3,"s":"59"},{"x":11.8,"y":15.2,"s":"60"},{"x":12.2,"y":15.1,"s":"60"},{"x":12.6,"y":15.2,"s":"59"},{"x":13.0,"y":15.1,"s":"60"},{"x":13.4,"y":15.2,"s":"60"},{"x":13.8,"y":15.0,"s":"60"},{"x":10.0,"y":14.8,"s":"59"},{"x":10.4,"y":14.7,"s":"59"},{"x":10.8,"y":14.7,"s":"60"},{"x":11.2,"y":14.6,"s":"57"},{"x":11.6,"y":14.7,"s":"60"},{"x":12.0,"y":14.6,"s":"60"},{"x":12.4,"y":14.5,"s":"59"},{"x":12.8,"y":14.6,"s":"60"},{"x":13.2,"y":14.5,"s":"60"},{"x":13.6,"y":14.4,"s":"59"},{"x":10.3,"y":14.2,"s":"60"},{"x":10.7,"y":14.1,"s":"59"},{"x":11.1,"y":14.1,"s":"60"},{"x":11.5,"y":14.0,"s":"60"},{"x":11.9,"y":14.0,"s":"59"},{"x":12.3,"y":13.9,"s":"60"},{"x":12.7,"y":14.0,"s":"60"},{"x":13.1,"y":13.9,"s":"60"},{"x":13.5,"y":13.8,"s":"60"},{"x":11.0,"y":13.6,"s":"60"},{"x":11.4,"y":13.5,"s":"60"},{"x":11.8,"y":13.5,"s":"58"},{"x":12.2,"y":13.4,"s":"60"},{"x":12.6,"y":13.5,"s":"59"},{"x":13.0,"y":13.4,"s":"60"},{"x":11.6,"y":13.9,"s":"57"},{"x":10.9,"y":16.0,"s":"57"},{"x":12.3,"y":16.0,"s":"58"},{"x":13.6,"y":16.9,"s":"59"},{"x":13.4,"y":17.3,"s":"57"},{"x":10.0,"y":17.2,"s":"60"},
      {"x":10.3,"y":16.75,"s":"60"},{"x":10.7,"y":16.75,"s":"59"},{"x":11.1,"y":16.7,"s":"57"},{"x":11.5,"y":16.65,"s":"60"},{"x":11.9,"y":16.6,"s":"59"},{"x":12.4,"y":16.6,"s":"60"},{"x":12.8,"y":16.7,"s":"60"},{"x":13.2,"y":16.75,"s":"60"},{"x":9.9,"y":16.25,"s":"59"},{"x":10.3,"y":16.2,"s":"57"},{"x":10.7,"y":16.15,"s":"59"},{"x":11.1,"y":16.2,"s":"60"},{"x":11.5,"y":16.15,"s":"59"},{"x":11.9,"y":16.1,"s":"60"},{"x":12.7,"y":16.1,"s":"60"},{"x":13.1,"y":16.05,"s":"60"},{"x":13.5,"y":15.95,"s":"60"},{"x":9.9,"y":15.65,"s":"59"},{"x":10.3,"y":15.6,"s":"59"},{"x":10.7,"y":15.55,"s":"60"},{"x":11.1,"y":15.5,"s":"59"},{"x":11.5,"y":15.55,"s":"60"},{"x":11.9,"y":15.5,"s":"60"},{"x":12.3,"y":15.45,"s":"60"},{"x":12.7,"y":15.5,"s":"60"},{"x":13.1,"y":15.45,"s":"60"},{"x":13.5,"y":15.5,"s":"59"},{"x":10.1,"y":15.05,"s":"59"},{"x":10.5,"y":15.0,"s":"60"},{"x":10.9,"y":14.95,"s":"59"},{"x":11.3,"y":14.9,"s":"60"},{"x":11.7,"y":14.95,"s":"60"},{"x":12.1,"y":14.85,"s":"59"},{"x":12.5,"y":14.85,"s":"60"},{"x":12.9,"y":14.85,"s":"60"},{"x":13.3,"y":14.8,"s":"60"},{"x":10.2,"y":14.45,"s":"59"},{"x":10.6,"y":14.4,"s":"60"},{"x":11.0,"y":14.35,"s":"59"},{"x":11.4,"y":14.3,"s":"60"},{"x":11.8,"y":14.3,"s":"60"},{"x":12.2,"y":14.25,"s":"60"},{"x":12.6,"y":14.25,"s":"59"},{"x":13.0,"y":14.2,"s":"60"},{"x":13.4,"y":14.1,"s":"60"},{"x":11.2,"y":13.8,"s":"60"},{"x":11.6,"y":13.7,"s":"59"},{"x":12.0,"y":13.7,"s":"60"},{"x":12.4,"y":13.65,"s":"60"},{"x":12.8,"y":13.7,"s":"60"},{"x":10.9,"y":17.7,"s":"59"},{"x":11.3,"y":17.7,"s":"57"},{"x":11.7,"y":18.05,"s":"59"},{"x":11.1,"y":18.2,"s":"60"},{"x":10.8,"y":17.2,"s":"57"},
      {"x":18.3,"y":11.5,"s":"60"},{"x":18.6,"y":11.5,"s":"58"},{"x":18.1,"y":11.2,"s":"60"},{"x":18.5,"y":11.1,"s":"60"},{"x":18.9,"y":11.0,"s":"59"},{"x":17.9,"y":10.8,"s":"58"},{"x":18.3,"y":10.7,"s":"60"},{"x":18.7,"y":10.6,"s":"60"},{"x":19.1,"y":10.5,"s":"58"},{"x":18.5,"y":10.3,"s":"59"},{"x":19.0,"y":10.2,"s":"60"},{"x":18.0,"y":10.9,"s":"57"},
      {"x":23.5,"y":9.9,"s":"60"},{"x":23.4,"y":9.6,"s":"59"},{"x":23.7,"y":9.4,"s":"60"},{"x":23.2,"y":9.5,"s":"57"},{"x":23.6,"y":9.2,"s":"58"},
      {"x":10.2,"y":10.6,"s":"60"},{"x":10.35,"y":10.45,"s":"59"},
      {"x":12.8,"y":8.6,"s":"59"},{"x":13.2,"y":8.7,"s":"59"},{"x":13.6,"y":8.6,"s":"57"},{"x":14.0,"y":8.7,"s":"58"},{"x":14.4,"y":8.6,"s":"60"},{"x":14.8,"y":8.7,"s":"59"},{"x":15.2,"y":8.6,"s":"59"},{"x":12.5,"y":8.2,"s":"59"},{"x":12.9,"y":8.2,"s":"60"},{"x":13.3,"y":8.1,"s":"59"},{"x":13.7,"y":8.2,"s":"60"},{"x":14.1,"y":8.1,"s":"59"},{"x":14.5,"y":8.2,"s":"59"},{"x":14.9,"y":8.1,"s":"60"},{"x":15.3,"y":8.2,"s":"59"},{"x":12.3,"y":7.7,"s":"59"},{"x":12.7,"y":7.7,"s":"60"},{"x":13.1,"y":7.6,"s":"60"},{"x":13.5,"y":7.7,"s":"59"},{"x":13.9,"y":7.6,"s":"60"},{"x":14.3,"y":7.7,"s":"60"},{"x":14.7,"y":7.6,"s":"59"},{"x":15.1,"y":7.7,"s":"60"},{"x":15.5,"y":7.6,"s":"59"},{"x":12.4,"y":7.2,"s":"60"},{"x":12.8,"y":7.1,"s":"59"},{"x":13.2,"y":7.2,"s":"60"},{"x":13.6,"y":7.1,"s":"60"},{"x":14.0,"y":7.2,"s":"59"},{"x":14.4,"y":7.1,"s":"60"},{"x":14.8,"y":7.2,"s":"60"},{"x":15.2,"y":7.1,"s":"59"},{"x":15.5,"y":7.0,"s":"59"},{"x":12.3,"y":6.7,"s":"59"},{"x":12.7,"y":6.6,"s":"60"},{"x":13.1,"y":6.7,"s":"59"},{"x":13.5,"y":6.6,"s":"60"},{"x":13.9,"y":6.7,"s":"60"},{"x":14.3,"y":6.6,"s":"59"},{"x":14.7,"y":6.7,"s":"60"},{"x":15.1,"y":6.6,"s":"60"},{"x":15.5,"y":6.5,"s":"59"},{"x":12.4,"y":6.2,"s":"59"},{"x":12.8,"y":6.1,"s":"60"},{"x":13.2,"y":6.2,"s":"59"},{"x":13.6,"y":6.1,"s":"60"},{"x":14.0,"y":6.2,"s":"60"},{"x":14.4,"y":6.1,"s":"59"},{"x":14.8,"y":6.2,"s":"60"},{"x":15.2,"y":6.1,"s":"59"},{"x":12.6,"y":5.7,"s":"57"},{"x":13.0,"y":5.6,"s":"60"},{"x":13.4,"y":5.7,"s":"60"},{"x":13.8,"y":5.6,"s":"59"},{"x":14.2,"y":5.7,"s":"60"},{"x":14.6,"y":5.6,"s":"60"},{"x":15.0,"y":5.7,"s":"59"},{"x":12.9,"y":5.2,"s":"58"},{"x":13.3,"y":5.1,"s":"59"},{"x":13.7,"y":5.2,"s":"60"},{"x":14.1,"y":5.1,"s":"59"},{"x":14.5,"y":5.2,"s":"58"},{"x":14.9,"y":5.3,"s":"59"},{"x":13.6,"y":4.8,"s":"59"},{"x":14.0,"y":4.7,"s":"59"},{"x":14.4,"y":4.8,"s":"59"},{"x":12.3,"y":7.9,"s":"58"},{"x":12.3,"y":6.4,"s":"57"},{"x":15.4,"y":8.4,"s":"57"},{"x":13.0,"y":5.9,"s":"58"},
      {"x":13.0,"y":8.4,"s":"60"},{"x":13.4,"y":8.45,"s":"59"},{"x":13.8,"y":8.4,"s":"59"},{"x":14.2,"y":8.4,"s":"60"},{"x":14.6,"y":8.45,"s":"59"},{"x":15.0,"y":8.4,"s":"60"},{"x":12.7,"y":7.95,"s":"59"},{"x":13.1,"y":7.9,"s":"60"},{"x":13.5,"y":7.95,"s":"59"},{"x":13.9,"y":7.9,"s":"60"},{"x":14.3,"y":7.95,"s":"60"},{"x":14.7,"y":7.9,"s":"59"},{"x":15.1,"y":7.95,"s":"60"},{"x":12.5,"y":7.45,"s":"59"},{"x":12.9,"y":7.4,"s":"60"},{"x":13.3,"y":7.45,"s":"60"},{"x":13.7,"y":7.4,"s":"59"},{"x":14.1,"y":7.45,"s":"60"},{"x":14.5,"y":7.4,"s":"60"},{"x":14.9,"y":7.45,"s":"59"},{"x":15.3,"y":7.35,"s":"59"},{"x":12.6,"y":6.95,"s":"60"},{"x":13.0,"y":6.9,"s":"59"},{"x":13.4,"y":6.95,"s":"60"},{"x":13.8,"y":6.9,"s":"60"},{"x":14.2,"y":6.95,"s":"59"},{"x":14.6,"y":6.9,"s":"60"},{"x":15.0,"y":6.95,"s":"60"},{"x":12.5,"y":6.45,"s":"59"},{"x":12.9,"y":6.4,"s":"60"},{"x":13.3,"y":6.45,"s":"60"},{"x":13.7,"y":6.4,"s":"59"},{"x":14.1,"y":6.45,"s":"60"},{"x":14.5,"y":6.4,"s":"60"},{"x":14.9,"y":6.45,"s":"59"},{"x":15.3,"y":6.35,"s":"59"},{"x":12.8,"y":5.9,"s":"60"},{"x":13.2,"y":5.95,"s":"59"},{"x":13.6,"y":5.9,"s":"60"},{"x":14.0,"y":5.95,"s":"60"},{"x":14.4,"y":5.9,"s":"59"},{"x":14.8,"y":5.95,"s":"60"},{"x":13.1,"y":5.4,"s":"60"},{"x":13.5,"y":5.45,"s":"59"},{"x":13.9,"y":5.4,"s":"60"},{"x":14.3,"y":5.45,"s":"59"},{"x":14.7,"y":5.4,"s":"59"},{"x":13.8,"y":5.0,"s":"59"},{"x":14.2,"y":4.95,"s":"60"},
      {"x":14.4,"y":9.4,"s":"60"},{"x":14.45,"y":9.2,"s":"58"},{"x":18.95,"y":2.85,"s":"60"},{"x":19.15,"y":2.7,"s":"59"},{"x":19.3,"y":2.6,"s":"60"},{"x":14.1,"y":1.25,"s":"59"},{"x":14.25,"y":1.35,"s":"60"}
    ]
  },
  "hconcat": [
    {
      "title": "Before Batch Correction",
      "width": 496,
      "height": 521,
      "data": {"name": "before"},
      "mark": {"type": "circle", "size": 36, "opacity": 1},
      "encoding": {
        "x": {"field": "x", "type": "quantitative", "scale": {"domain": [0, 24.8], "nice": false, "zero": false}, "title": "X_umap_orig1"},
        "y": {"field": "y", "type": "quantitative", "scale": {"domain": [0, 26.05], "nice": false, "zero": false}, "title": "X_umap_orig2"},
        "color": {
          "field": "s", "type": "nominal",
          "scale": {"domain": ["57", "58", "59", "60"], "range": ["#4C72B0", "#DD8452", "#55A868", "#C44E52"]},
          "legend": {"title": null, "orient": "none", "legendX": 520, "legendY": 221, "labelExpr": "'GSM22307' + datum.label"}
        }
      }
    },
    {
      "title": "After Harmony Correction",
      "width": 497,
      "height": 521,
      "data": {"name": "after"},
      "mark": {"type": "circle", "size": 36, "opacity": 1},
      "encoding": {
        "x": {"field": "x", "type": "quantitative", "scale": {"domain": [0, 24.85], "nice": false, "zero": false}, "title": "X_umap_harmony1"},
        "y": {"field": "y", "type": "quantitative", "scale": {"domain": [0, 26.05], "nice": false, "zero": false}, "title": "X_umap_harmony2"},
        "color": {
          "field": "s", "type": "nominal",
          "scale": {"domain": ["57", "58", "59", "60"], "range": ["#4C72B0", "#DD8452", "#55A868", "#C44E52"]},
          "legend": {"title": null, "orient": "none", "legendX": 521, "legendY": 221, "labelExpr": "'GSM22307' + datum.label"}
        }
      }
    }
  ],
  "resolve": {"scale": {"color": "independent"}}
}
